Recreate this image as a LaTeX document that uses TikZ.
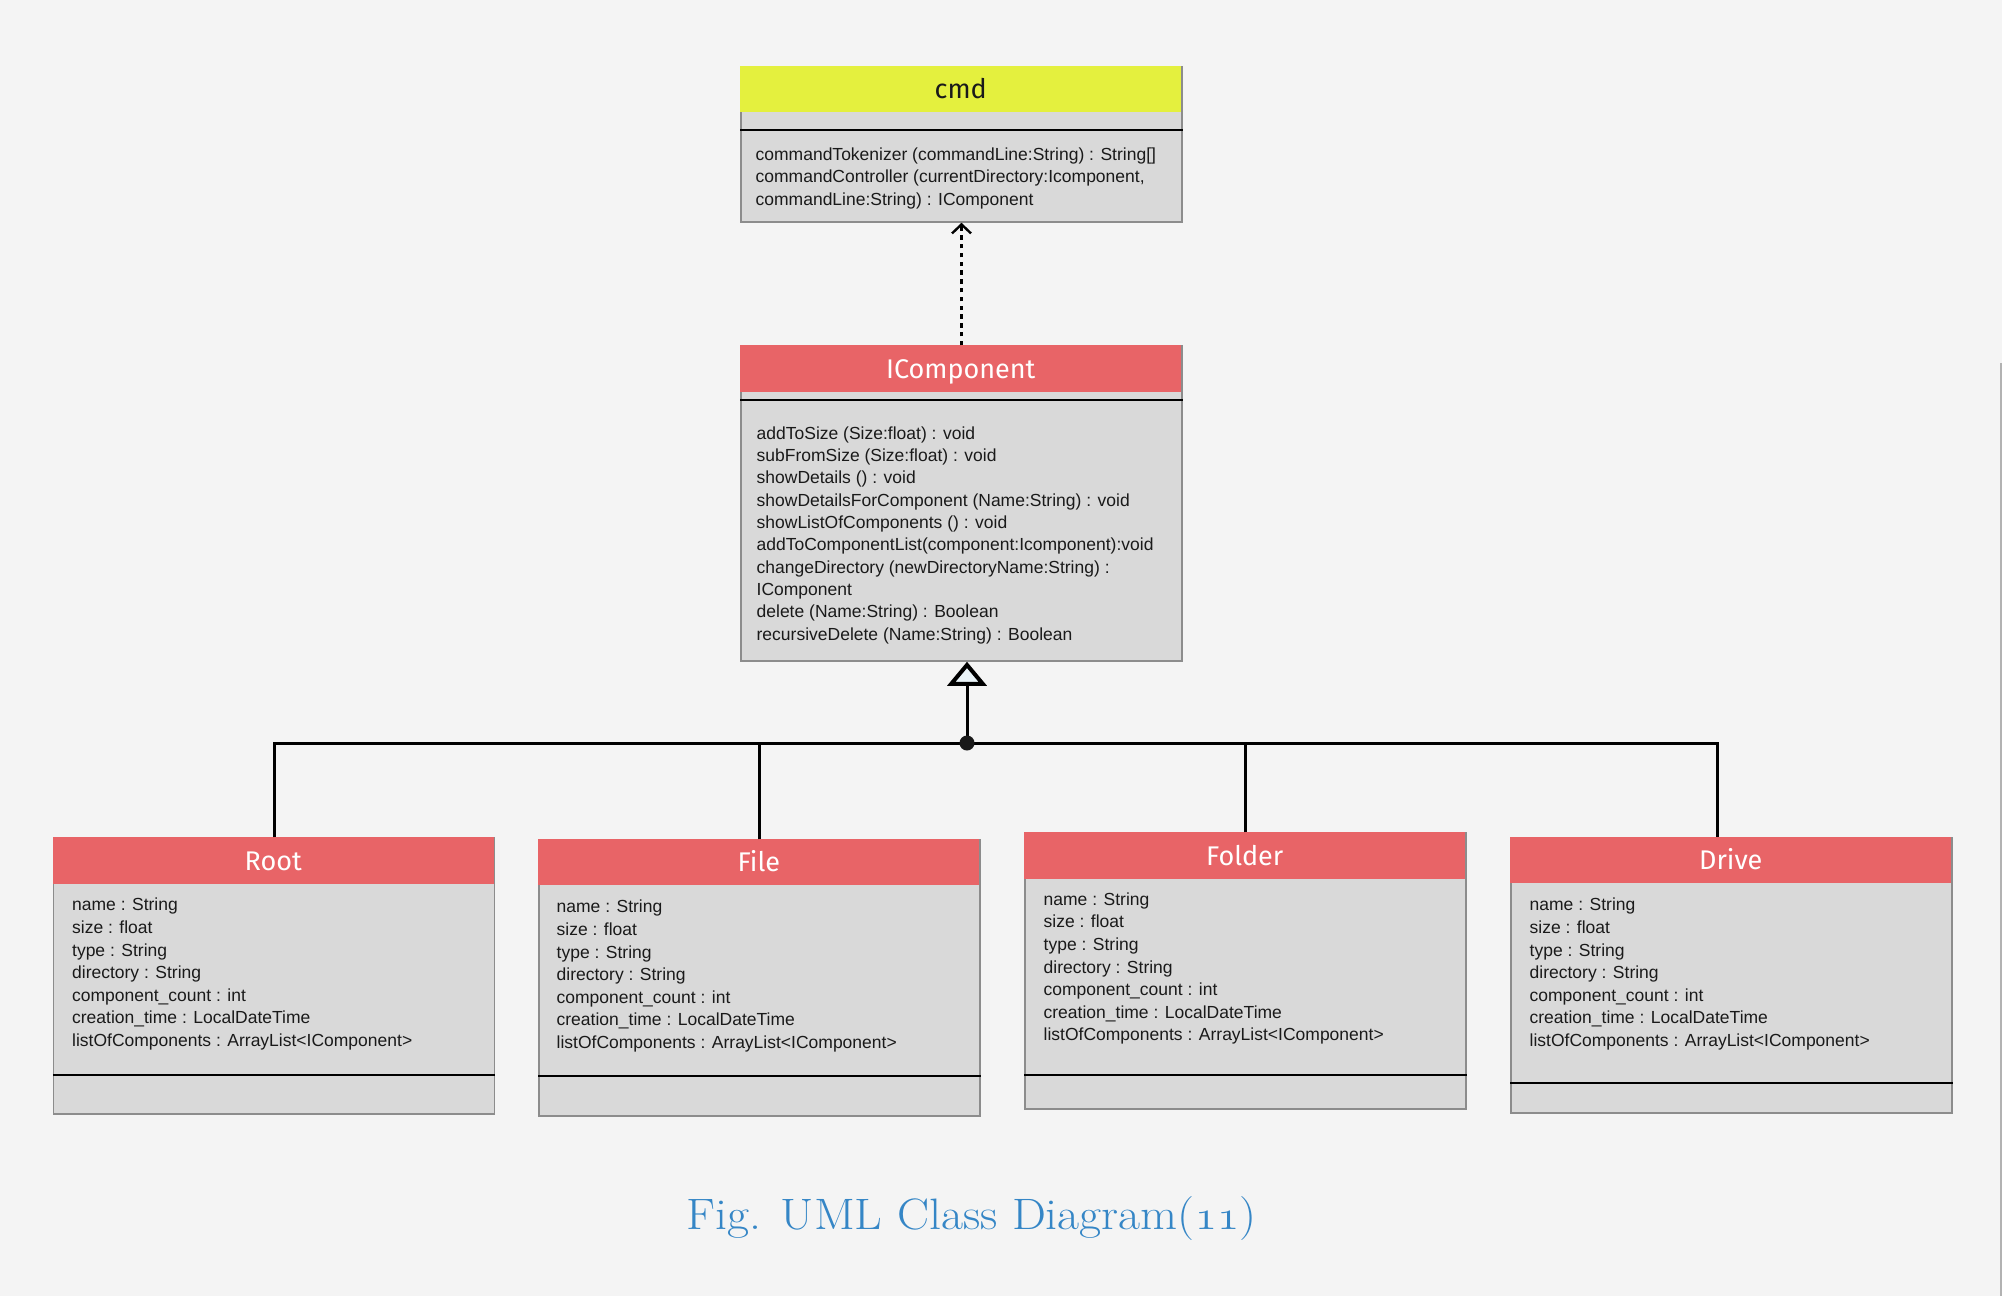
\documentclass[tikz,border=0pt]{standalone}
\usepackage{graphicx}
\usepackage{fontspec}
\newfontfamily\bodyfont{Liberation Sans}
\newfontfamily\hdrfont{Fira Sans}
\usetikzlibrary{arrows.meta}
\definecolor{bg}{HTML}{F4F4F4}
\definecolor{boxgray}{HTML}{D9D9D9}
\definecolor{boxedge}{HTML}{8C8C8C}
\definecolor{hdrred}{HTML}{E86467}
\definecolor{hdryellow}{HTML}{E4F03E}
\definecolor{capblue}{HTML}{3586C6}
\definecolor{ink}{HTML}{1A1A1A}
\definecolor{trifill}{HTML}{EAF4F9}
\begin{document}
\begin{tikzpicture}[x=0.5pt,y=-0.5pt,
  classbox/.style={draw=boxedge, line width=0.75pt, fill=boxgray, rectangle, inner sep=0pt, minimum width=220.5pt},
  hdrtext/.style={font=\hdrfont\fontsize{13.5}{16}\selectfont, text=white, inner sep=0pt, text height=9.3pt, text depth=0pt},
  bodytext/.style={font=\bodyfont\fontsize{8.75}{11.3}\selectfont, text=ink, align=left, inner sep=0pt, anchor=north west},
  sepline/.style={line width=1pt, draw=black},
  conn/.style={line width=1.5pt, draw=black},
]
\fill[bg] (0,0) rectangle (2002,1296);
\useasboundingbox (0,0) rectangle (2002,1296);
\fill[gray!60] (2000,363) rectangle (2002,1296);

% cmd
\node[classbox, minimum height=77.5pt] (cmd) at (961.5,144.5) {};
\fill[hdryellow] (cmd.north west) rectangle ++(441,46) node[midway, hdrtext, text=ink] (cmdT) {cmd};
\draw[sepline] ([yshift=-32pt]cmd.north west) -- ([yshift=-32pt]cmd.north east);
\node[bodytext] (cmdM) at ([shift={(15,81)}]cmd.north west) {commandTokenizer (commandLine:String) : String[]\\commandController (currentDirectory:Icomponent,\\commandLine:String) : IComponent};

% IComponent
\node[classbox, minimum height=157.5pt] (icomp) at (961.5,503.5) {};
\fill[hdrred] (icomp.north west) rectangle ++(441,47) node[midway, hdrtext] (icompT) {IComponent};
\draw[sepline] ([yshift=-27.5pt]icomp.north west) -- ([yshift=-27.5pt]icomp.north east);
\node[bodytext, font=\bodyfont\fontsize{8.75}{11.15}\selectfont] (icompM) at ([shift={(16,81)}]icomp.north west) {addToSize (Size:float) : void\\subFromSize (Size:float) : void\\showDetails () : void\\showDetailsForComponent (Name:String) : void\\showListOfComponents () : void\\addToComponentList(component:Icomponent):void\\changeDirectory (newDirectoryName:String) :\\IComponent\\delete (Name:String) : Boolean\\recursiveDelete (Name:String) : Boolean};

% subclasses
\newcommand{\attrlist}{name : String\\size : float\\type : String\\directory : String\\component\_count : int\\creation\_time : LocalDateTime\\listOfComponents : ArrayList<IComponent>}

\node[classbox, minimum height=138pt] (root) at (274,976) {};
\fill[hdrred] (root.north west) rectangle ++(441,47) node[midway, hdrtext] (rootT) {Root};
\draw[sepline] ([yshift=-119pt]root.north west) -- ([yshift=-119pt]root.north east);
\node[bodytext] (rootA) at ([shift={(19,60.5)}]root.north west) {\attrlist};

\node[classbox, minimum height=138pt] (file) at (759.5,978) {};
\fill[hdrred] (file.north west) rectangle ++(441,46) node[midway, hdrtext] (fileT) {File};
\draw[sepline] ([yshift=-118.5pt]file.north west) -- ([yshift=-118.5pt]file.north east);
\node[bodytext] (fileA) at ([shift={(18,60.5)}]file.north west) {\attrlist};

\node[classbox, minimum height=138pt] (folder) at (1245.5,971) {};
\fill[hdrred] (folder.north west) rectangle ++(441,47) node[midway, hdrtext] (folderT) {Folder};
\draw[sepline] ([yshift=-121.5pt]folder.north west) -- ([yshift=-121.5pt]folder.north east);
\node[bodytext] (folderA) at ([shift={(19,60)}]folder.north west) {\attrlist};

\node[classbox, minimum height=137.5pt] (drive) at (1731.5,975.5) {};
\fill[hdrred] (drive.north west) rectangle ++(441,46) node[midway, hdrtext] (driveT) {Drive};
\draw[sepline] ([yshift=-123pt]drive.north west) -- ([yshift=-123pt]drive.north east);
\node[bodytext] (driveA) at ([shift={(19,60.5)}]drive.north west) {\attrlist};

% connectors
\draw[line width=1.2pt, dash pattern=on 2.2pt off 2.2pt, -{Straight Barb[length=4.5pt,width=9.5pt]}] (icomp.north) -- (cmd.south);

\coordinate (junction) at (967,743);
\coordinate (busDrive) at (1717,743);
\draw[conn] (root.north) |- (busDrive) -- (busDrive |- drive.north);
\draw[conn] (file.north) -- (file.north |- junction);
\draw[conn] (folder.north) -- (folder.north |- junction);
\draw[conn, -{Triangle[open, length=12pt, width=19.5pt, line width=2pt, fill=trifill]}] (junction) -- (junction |- icomp.south);
\fill[black!90] (junction) circle[radius=3.75pt];

% caption
\node[font=\fontsize{22}{26}\selectfont, text=capblue, anchor=base, inner sep=0pt] (caption) at (971.5,1229) {\scalebox{1.09}[1]{Fig. UML Class Diagram($\mathnormal{11}$)}};
\end{tikzpicture}
\end{document}
